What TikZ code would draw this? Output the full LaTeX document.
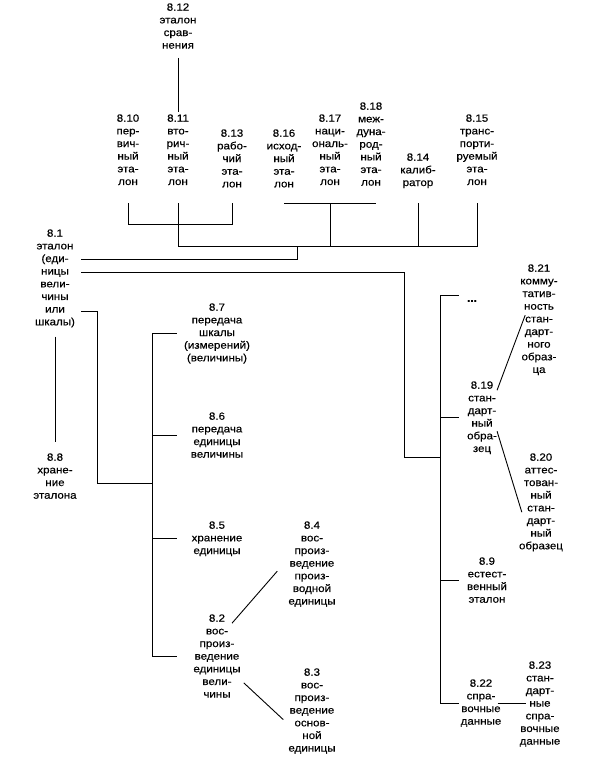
\documentclass[tikz,border=0pt]{standalone}
\usepackage{fontspec}
\setmainfont[FakeStretch=1.1,FakeBold=0.3]{Liberation Sans}
\usetikzlibrary{positioning}

\begin{document}
\begin{tikzpicture}[x=1pt,y=-1pt,
  font=\fontsize{10.5}{12.65}\selectfont,
  t/.style={align=center,inner sep=0,anchor=north},
  ln/.style={line width=0.9pt},
]
\useasboundingbox (0,0) rectangle (599,764);
% --- top row of standards ---
\node[t] (n812) at (178,3.2) {8.12\\эталон\\срав-\\нения};
\node[t] (n810) at (128,114.2) {8.10\\пер-\\вич-\\ный\\эта-\\лон};
\node[t] (n811) at (178,114.2) {8.11\\вто-\\рич-\\ный\\эта-\\лон};
\node[t] (n813) at (232,129.2) {8.13\\рабо-\\чий\\эта-\\лон};
\node[t] (n816) at (284,129.2) {8.16\\исход-\\ный\\эта-\\лон};
\node[t] (n817) at (330,114.2) {8.17\\наци-\\ональ-\\ный\\эта-\\лон};
\node[t] (n818) at (371,102.2) {8.18\\меж-\\дуна-\\род-\\ный\\эта-\\лон};
\node[t] (n814) at (418,153.2) {8.14\\калиб-\\ратор};
\node[t] (n815) at (477,114.2) {8.15\\транс-\\порти-\\руемый\\эта-\\лон};
% --- left column ---
\node[t] (n81) at (55,229.2) {8.1\\эталон\\(еди-\\ницы\\вели-\\чины\\или\\шкалы)};
\node[t] (n88) at (55,453.2) {8.8\\хране-\\ние\\эталона};
\node[t] (n87) at (217,303.2) {8.7\\передача\\шкалы\\(измерений)\\(величины)};
\node[t] (n86) at (217,412.2) {8.6\\передача\\единицы\\величины};
\node[t] (n85) at (217,521.2) {8.5\\хранение\\единицы};
\node[t] (n82) at (217,614.2) {8.2\\вос-\\произ-\\ведение\\единицы\\вели-\\чины};
\node[t] (n84) at (312,521.2) {8.4\\вос-\\произ-\\ведение\\произ-\\водной\\единицы};
\node[t] (n83) at (312,668.2) {8.3\\вос-\\произ-\\ведение\\основ-\\ной\\единицы};
% --- right column ---
\node[inner sep=0] (dots) at (472,301) {\textbf{...}};
\node[t] (n821) at (539,264.2) {8.21\\комму-\\татив-\\ность\\стан-\\дарт-\\ного\\образ-\\ца};
\node[t] (n819) at (482,381.2) {8.19\\стан-\\дарт-\\ный\\обра-\\зец};
\node[t] (n820) at (541,453.2) {8.20\\аттес-\\тован-\\ный\\стан-\\дарт-\\ный\\образец};
\node[t] (n89) at (487,557.2) {8.9\\естест-\\венный\\эталон};
\node[t] (n822) at (481,679.2) {8.22\\спра-\\вочные\\данные};
\node[t] (n823) at (540,661.2) {8.23\\стан-\\дарт-\\ные\\спра-\\вочные\\данные};

% --- brackets under the top row ---
\coordinate (r1) at (0,203); \coordinate (r2) at (0,224); \coordinate (r3) at (0,246);
\coordinate (r1e) at (376,203); \coordinate (j1) at (297,246);
\draw[ln] ([yshift=-9pt]n812.south) -- ([yshift=2pt]n811.north);
\draw[ln] (n810 |- r1) -- (n810 |- r2) -- (n813 |- r2) -- (n813 |- r1);
\draw[ln] (n811 |- r1) -- (n811 |- r3) -- (n815 |- r3) -- (n815 |- r1);
\draw[ln] (n816 |- r1) -- (r1e);
\draw[ln] (n817 |- r1) -- (n817 |- r3);
\draw[ln] (n814 |- r1) -- (n814 |- r3);
% --- lines out of 8.1 ---
\coordinate (o1) at (81,259); \coordinate (o2) at (81,272); \coordinate (o3) at (81,311);
\coordinate (k1) at (404,457); \coordinate (k2) at (97,483);
\coordinate (sL) at (152,0); \coordinate (bL) at (177,0);
\coordinate (sR) at (440,0); \coordinate (bR) at (459,0);
\coordinate (q1) at (440,295);
\draw[ln] (j1) |- (o1);
\draw[ln] (o2) -| (k1) -- (k1 -| sR);
\draw[ln] (o3) -| (k2) -- (k2 -| sL);
\draw[ln] ([yshift=-9pt]n81.south) -- ([yshift=11pt]n88.north);
% left spine
\draw[ln] (sL |- n87.west) -- (sL |- n82.west);
\foreach \n in {n87,n86,n85,n82}
  \draw[ln] (sL |- \n.west) -- (bL |- \n.west);
\draw[ln] ([xshift=15pt,yshift=-9pt]n82.north) -- ([xshift=-11pt,yshift=-50pt]n84.north west);
\draw[ln] ([xshift=3pt,yshift=15pt]n82.south east) -- ([xshift=-5pt,yshift=-8.5pt]n83.west);
% right spine
\draw[ln] (q1) -- (sR |- n822.west);
\draw[ln] (q1) -- (q1 -| bR);
\foreach \n in {n819,n89,n822}
  \draw[ln] (sR |- \n.west) -- (bR |- \n.west);
\draw[ln] ([yshift=-9pt]n819.north east) -- ([xshift=5pt,yshift=-51pt]n821.north west);
\draw[ln] ([yshift=-13.5pt]n819.east) -- ([xshift=3pt,yshift=-59pt]n820.north west);
\draw[ln] ([xshift=-4pt]n822.east) -- ([xshift=7pt]n823.west |- n822.east);
\end{tikzpicture}
\end{document}
